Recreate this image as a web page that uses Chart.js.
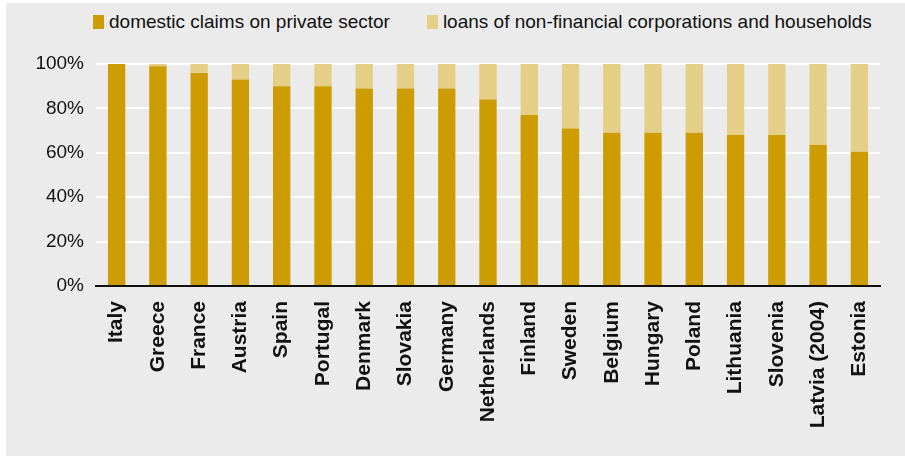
<!DOCTYPE html>
<html>
<head>
<meta charset="utf-8">
<title>Domestic claims vs loans</title>
<script src="https://cdn.jsdelivr.net/npm/chart.js@4.4.1/dist/chart.umd.min.js"></script>
<style>
    html, body { margin: 0; padding: 0; background: #ffffff; }
    #wrap {
        position: absolute;
        left: 6px;
        top: 3px;
        width: 899px;
        height: 453px;
        background: #ebebeb;
    }
    #legend {
        position: absolute;
        left: 87px;
        top: 8px;
        display: flex;
        font-family: 'Liberation Sans', Arial, Helvetica, sans-serif;
        font-size: 19px;
        line-height: 22px;
        color: #111;
        white-space: nowrap;
    }
    #legend .item { display: flex; align-items: center; }
    #legend .item + .item { margin-left: 37px; }
    #legend .box { width: 11px; height: 14px; margin-right: 5px; }
    #claimsChart { position: absolute; left: 0; top: 0; }
</style>
</head>
<body>
<div id="wrap">
    <div id="legend"></div>
    <canvas id="claimsChart"></canvas>
</div>
<script>
// 国家与两组占比数据（%）
const countries = ['Italy', 'Greece', 'France', 'Austria', 'Spain', 'Portugal', 'Denmark', 'Slovakia',
    'Germany', 'Netherlands', 'Finland', 'Sweden', 'Belgium', 'Hungary', 'Poland', 'Lithuania',
    'Slovenia', 'Latvia (2004)', 'Estonia'];
const domesticClaims = [100, 99, 96, 93, 90, 90, 89, 89, 89, 84, 77, 71, 69, 69, 69, 68, 68, 63.5, 60.5];
const loansShare = [0, 1, 4, 7, 10, 10, 11, 11, 11, 16, 23, 29, 31, 31, 31, 32, 32, 36.5, 39.5];
const yTicks = [0, 20, 40, 60, 80, 100];

const DARK = '#cc9c00';
const LIGHT = '#e5cf87';
const FONT = "'Liberation Sans', Arial, Helvetica, sans-serif";

// HTML 图例，由数据集生成
const htmlLegend = {
    id: 'htmlLegend',
    afterUpdate(chart) {
        const box = document.getElementById('legend');
        if (!box) return;
        box.innerHTML = '';
        chart.data.datasets.forEach((ds) => {
            const item = document.createElement('div');
            item.className = 'item';
            const swatch = document.createElement('span');
            swatch.className = 'box';
            swatch.style.background = ds.backgroundColor;
            const text = document.createElement('span');
            text.textContent = ds.label;
            item.appendChild(swatch);
            item.appendChild(text);
            box.appendChild(item);
        });
    }
};

function initClaimsChart() {
    const ctx = document.getElementById('claimsChart').getContext('2d');
    new Chart(ctx, {
        type: 'bar',
        data: {
            labels: countries,
            datasets: [{
                label: 'domestic claims on private sector',
                data: domesticClaims,
                backgroundColor: DARK,
                categoryPercentage: 1,
                barPercentage: 0.42
            }, {
                label: 'loans of non-financial corporations and households',
                data: loansShare,
                backgroundColor: LIGHT,
                categoryPercentage: 1,
                barPercentage: 0.42
            }]
        },
        options: {
            responsive: true,
            maintainAspectRatio: false,
            animation: false,
            layout: { padding: { left: 0, right: 25, top: 61, bottom: 0 } },
            plugins: {
                tooltip: { enabled: false },
                legend: { display: false }
            },
            scales: {
                x: {
                    stacked: true,
                    grid: { display: false, drawTicks: false },
                    border: { display: true, color: '#111', width: 2, z: 1 },
                    ticks: {
                        minRotation: 90,
                        maxRotation: 90,
                        autoSkip: false,
                        padding: 15,
                        color: '#111',
                        font: { family: FONT, size: 21, weight: 'bold' }
                    },
                    afterFit(scale) { scale.height = 170; }
                },
                y: {
                    stacked: true,
                    min: 0,
                    max: 100,
                    afterBuildTicks(scale) { scale.ticks = yTicks.map(v => ({ value: v })); },
                    grid: { color: '#ffffff', lineWidth: 2, drawTicks: false },
                    border: { display: false },
                    ticks: {
                        padding: 12,
                        color: '#111',
                        font: { family: FONT, size: 19 },
                        callback: (v) => `${v}%`
                    },
                    afterFit(scale) { scale.width = 90; }
                }
            }
        },
        plugins: [htmlLegend]
    });
}

document.addEventListener('DOMContentLoaded', initClaimsChart);
</script>
</body>
</html>
